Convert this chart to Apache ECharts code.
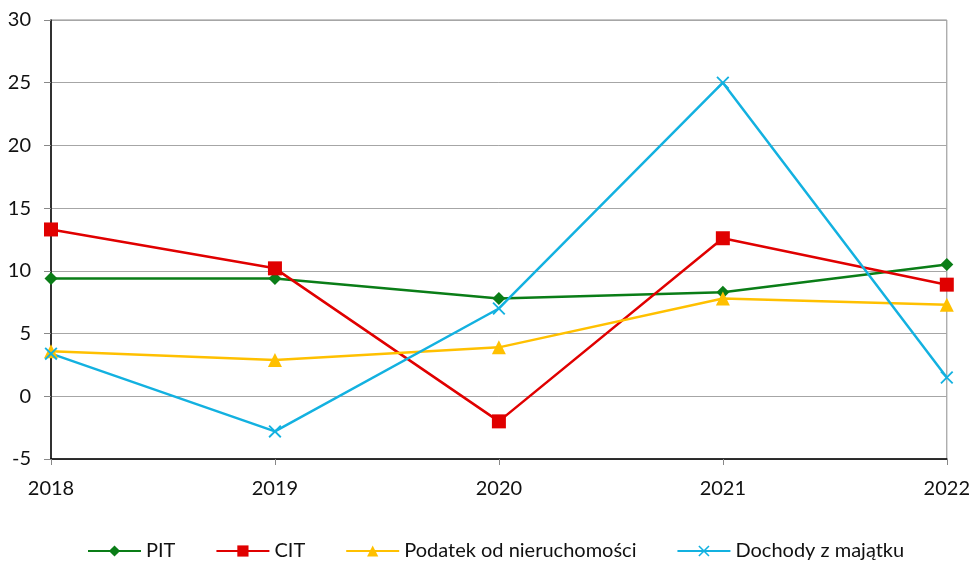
<!DOCTYPE html>
<html>
<head>
<meta charset="utf-8">
<script src="https://cdn.jsdelivr.net/npm/echarts@6/dist/echarts.min.js"></script>
<style>
  html, body { margin: 0; padding: 0; background: #fff; }
  #chart { width: 973px; height: 568px; }
</style>
</head>
<body>
<div id="chart"></div>
<script>
const years = ['2018', '2019', '2020', '2021', '2022'];
const pit = [9.4, 9.4, 7.8, 8.3, 10.5];
const cit = [13.3, 10.2, -2.0, 12.6, 8.9];
const podatek = [3.6, 2.9, 3.9, 7.8, 7.3];
const dochody = [3.4, -2.8, 7.0, 25.0, 1.5];

const FONT = 'Lato, "Noto Sans", sans-serif';
const crossPath = 'path://M0,1L1,0L10,9L9,10ZM9,0L10,1L1,10L0,9Z';

const chart = echarts.init(document.getElementById('chart'));

const line = (name, data, color, symbol, size, width) => ({
   name,
   type: 'line',
   data,
   symbol,
   symbolSize: size,
   showSymbol: true,
   itemStyle: { color },
   lineStyle: { color, width },
   emphasis: { disabled: true },
   z: 3
});

chart.setOption({
   animation: false,
   grid: {
      left: 51, right: 25, top: 20, bottom: 109,
      show: true, borderColor: '#8c8c8c', borderWidth: 1
   },
   legend: {
      bottom: 2,
      left: 82,
      itemWidth: 53,
      itemHeight: 14,
      itemGap: 40,
      textStyle: { fontFamily: FONT, fontSize: 20, color: '#111', padding: [0, 0, 0, 0] },
      data: ['PIT', 'CIT', 'Podatek od nieruchomości', 'Dochody z majątku']
   },
   xAxis: {
      type: 'category',
      data: years,
      boundaryGap: false,
      axisLine: { onZero: false, lineStyle: { color: '#000', width: 1.5 } },
      axisTick: { show: true, length: 6, lineStyle: { color: '#888' } },
      axisLabel: { fontFamily: FONT, fontSize: 20, color: '#111', margin: 20 },
      splitLine: { show: false }
   },
   yAxis: {
      type: 'value',
      min: -5, max: 30, interval: 5,
      axisLine: { show: true, lineStyle: { color: '#000', width: 1.5 } },
      axisTick: { show: true, length: 7, lineStyle: { color: '#888' } },
      axisLabel: { fontFamily: FONT, fontSize: 20, color: '#111', margin: 20 },
      splitLine: { lineStyle: { color: '#a6a6a6', width: 1 } }
   },
   series: [
      line('PIT', pit, '#0a7d17', 'diamond', 13, 2.5),
      line('CIT', cit, '#e00000', 'rect', 14, 2.5),
      line('Podatek od nieruchomości', podatek, '#ffc000', 'triangle', 14, 2.5),
      line('Dochody z majątku', dochody, '#13b1e0', crossPath, 13, 2.5)
   ]
});
</script>
</body>
</html>
